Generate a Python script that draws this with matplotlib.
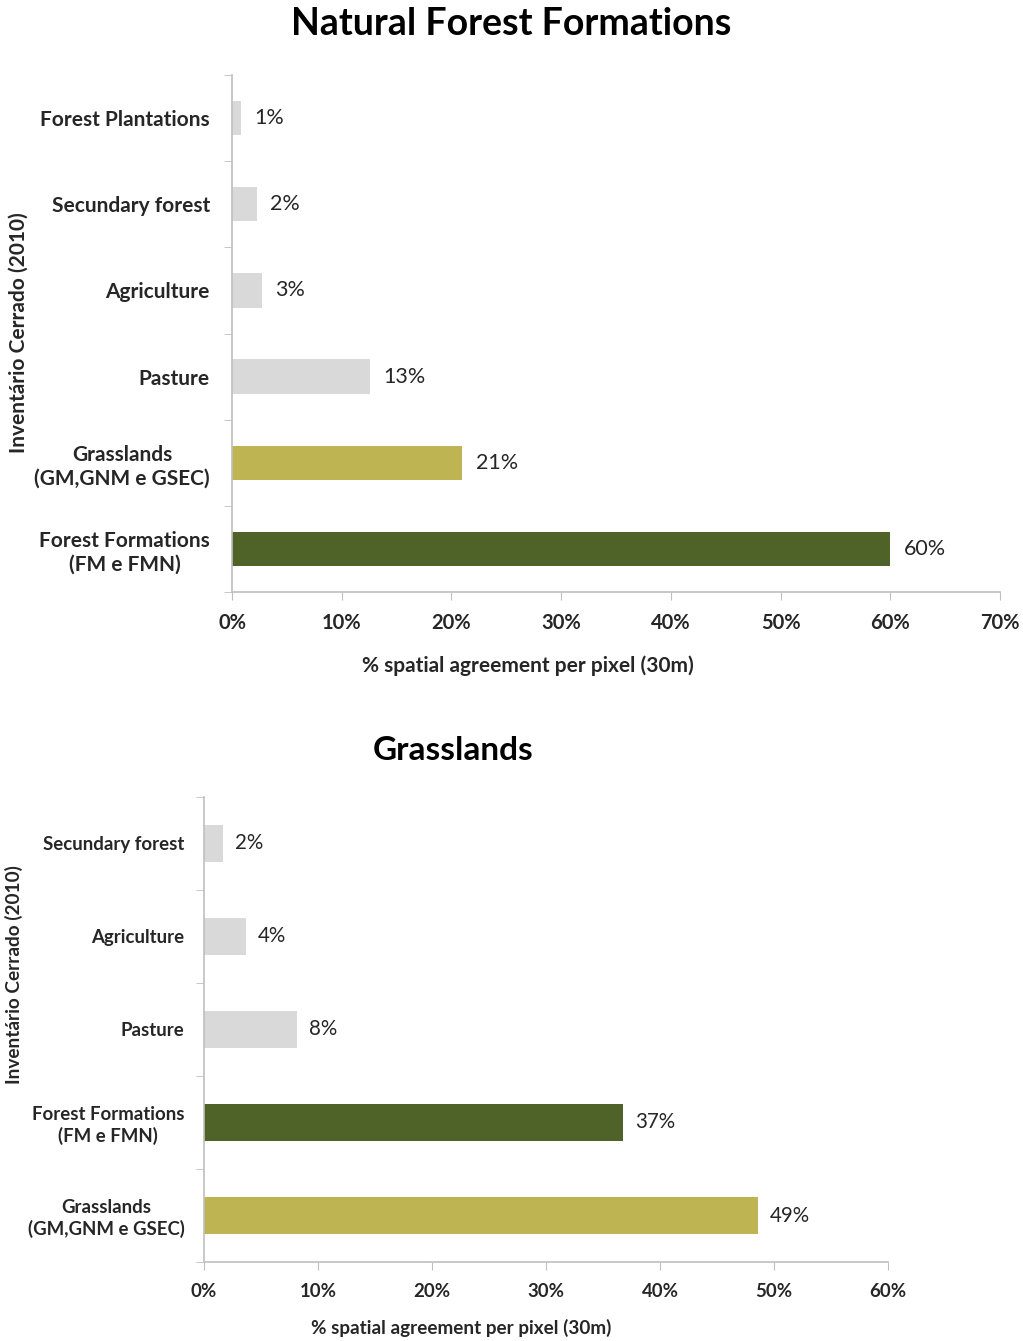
import matplotlib
matplotlib.use("Agg")
import matplotlib.pyplot as plt

plt.rcParams['font.family'] = ['Lato', 'DejaVu Sans']

# Top chart data (bottom-to-top order as drawn)
top_categories = ["Forest Formations\n(FM e FMN)", "Grasslands\n(GM,GNM e GSEC)", "Pasture",
                  "Agriculture", "Secundary forest", "Forest Plantations"]
top_values = [60.0, 21.0, 12.6, 2.7, 2.3, 0.8]
top_labels = ["60%", "21%", "13%", "3%", "2%", "1%"]
top_colors = ["#4f6228", "#bfb452", "#d9d9d9", "#d9d9d9", "#d9d9d9", "#d9d9d9"]
top_xticks = [0, 10, 20, 30, 40, 50, 60, 70]

# Bottom chart data (bottom-to-top)
bot_categories = ["Grasslands\n(GM,GNM e GSEC)", "Forest Formations\n(FM e FMN)", "Pasture",
                  "Agriculture", "Secundary forest"]
bot_values = [48.6, 36.8, 8.2, 3.7, 1.7]
bot_labels = ["49%", "37%", "8%", "4%", "2%"]
bot_colors = ["#bfb452", "#4f6228", "#d9d9d9", "#d9d9d9", "#d9d9d9"]
bot_xticks = [0, 10, 20, 30, 40, 50, 60]

spine_col = "#bfbfbf"
text_col = "#262626"

fig = plt.figure(figsize=(10.23, 13.41), dpi=100)


def draw(ax, cats, vals, labs, cols, xticks, fs_cat, fs_val, fs_tick, pad_val, pad_cat):
    n = len(cats)
    y = list(range(n))
    ax.barh(y, vals, height=0.4, color=cols, edgecolor="none")
    ax.set_xlim(0, xticks[-1])
    ax.set_ylim(-0.5, n - 0.5)
    for yi, v, l in zip(y, vals, labs):
        ax.text(v + pad_val, yi, l, va="center", ha="left", fontsize=fs_val, color=text_col)
    ax.set_yticks(y)
    ax.set_yticklabels(cats, fontsize=fs_cat, fontweight="bold", color=text_col,
                       linespacing=1.25, ha="right", multialignment="center")
    ax.tick_params(axis="y", length=0, pad=pad_cat)
    # minor ticks at category boundaries
    ax.set_yticks([i - 0.5 for i in range(n + 1)], minor=True)
    ax.tick_params(axis="y", which="minor", length=6, color=spine_col, direction="out")
    ax.set_xticks(xticks)
    ax.set_xticklabels([f"{t}%" for t in xticks], fontsize=fs_tick, fontweight="bold", color=text_col)
    ax.tick_params(axis="x", length=6, color=spine_col, direction="out", pad=9)
    for s in ["top", "right"]:
        ax.spines[s].set_visible(False)
    for s in ["left", "bottom"]:
        ax.spines[s].set_color(spine_col)
        ax.spines[s].set_linewidth(1.2)


ax1 = fig.add_axes([0.2268, 0.5585, 0.7507, 0.3856])
draw(ax1, top_categories, top_values, top_labels, top_colors, top_xticks, 15, 15.5, 14.5, 1.2, 16)
fig.text(528 / 1023, 1 - 666 / 1341, "% spatial agreement per pixel (30m)", ha="center",
         va="center", fontsize=15, fontweight="bold", color=text_col)
fig.text(0.5, 1 - 24 / 1341, "Natural Forest Formations", ha="center", va="center",
         fontsize=27, fontweight="bold", color="black")
fig.text(0.018, 1 - 333 / 1341, "Inventário Cerrado (2010)", rotation=90, ha="center",
         va="center", fontsize=15, fontweight="bold", color=text_col)

ax2 = fig.add_axes([0.1994, 0.0589, 0.6686, 0.3468])
draw(ax2, bot_categories, bot_values, bot_labels, bot_colors, bot_xticks, 13.4, 14.8, 13.4, 1.0, 14)
fig.text(461 / 1023, 1 - 1328 / 1341, "% spatial agreement per pixel (30m)", ha="center",
         va="center", fontsize=13.6, fontweight="bold", color=text_col)
fig.text(453 / 1023, 1 - 750 / 1341, "Grasslands", ha="center", va="center",
         fontsize=24, fontweight="bold", color="black")
fig.text(0.014, 1 - 975 / 1341, "Inventário Cerrado (2010)", rotation=90, ha="center",
         va="center", fontsize=13.7, fontweight="bold", color=text_col)

fig.savefig("out.png", dpi=100, facecolor="white")
